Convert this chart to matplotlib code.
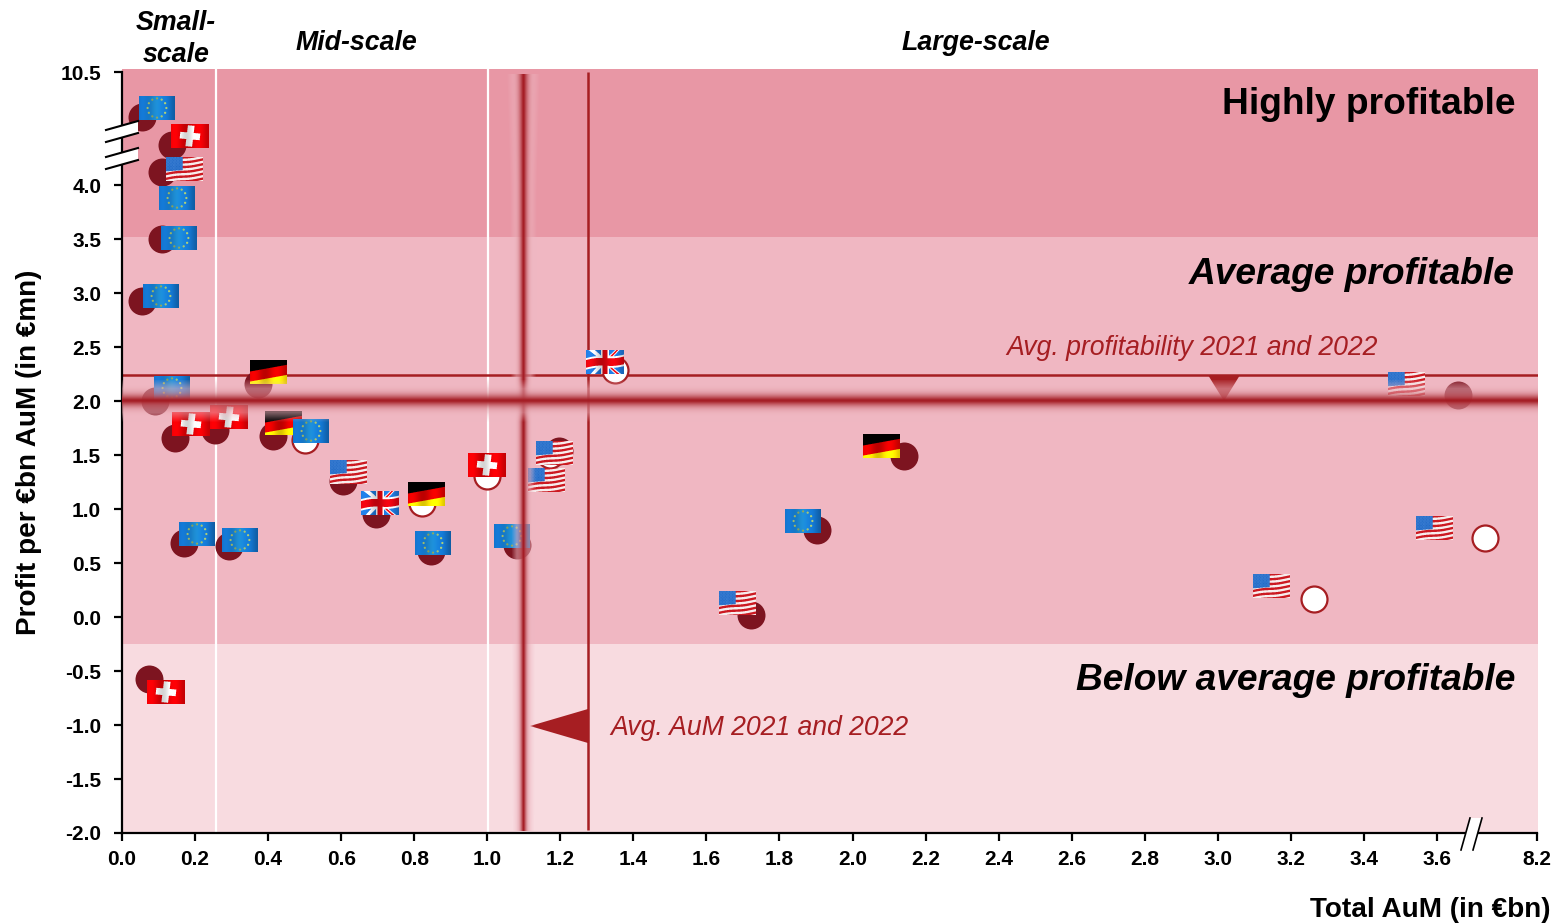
import numpy as np
import matplotlib
matplotlib.use('Agg')
import matplotlib.pyplot as plt
from matplotlib.offsetbox import AnnotationBbox, OffsetImage
from matplotlib.patches import Polygon

plt.rcParams['font.family'] = ['Liberation Sans', 'DejaVu Sans']

# funds, solid markers (AuM in EUR bn, profit per bn AuM in EUR mn)
solid_x = [0.055, 0.137, 0.110, 0.110, 0.055, 0.145, 0.255, 0.372, 0.413, 0.605, 0.695,
           0.170, 0.293, 1.196, 0.846, 1.081, 0.090, 2.141, 1.903, 1.722, 4.56, 0.074]
solid_y = [7.91, 6.30, 4.75, 3.50, 2.93, 1.66, 1.73, 2.16, 1.68, 1.26, 0.95,
           0.69, 0.66, 1.54, 0.61, 0.67, 2.00, 1.49, 0.81, 0.02, 2.06, -0.57]

# funds, open markers
open_x = [0.501, 0.821, 0.999, 1.350, 1.172, 3.263, 5.80]
open_y = [1.64, 1.06, 1.31, 2.29, 1.50, 0.17, 0.73]

# country flags next to the markers
flag_country = ['EU', 'CH', 'US', 'EU', 'EU', 'EU', 'EU', 'CH', 'CH', 'DE', 'DE', 'EU', 'US', 'UK', 'EU',
                'EU', 'DE', 'EU', 'CH', 'US', 'US', 'EU', 'UK', 'DE', 'EU', 'US', 'US', 'US', 'US', 'CH']
flag_x = [0.096, 0.186, 0.170, 0.151, 0.156, 0.107, 0.137, 0.189, 0.293, 0.400, 0.441, 0.517, 0.619, 0.706, 0.205,
          0.323, 0.835, 0.851, 0.999, 1.185, 1.161, 1.068, 1.322, 2.080, 1.864, 1.684, 3.518, 3.148, 3.592, 0.120]
flag_y = [8.43, 6.82, 4.92, 3.88, 3.51, 2.97, 2.12, 1.79, 1.85, 2.27, 1.80, 1.72, 1.34, 1.06, 0.77,
          0.71, 1.14, 0.69, 1.41, 1.52, 1.27, 0.75, 2.36, 1.58, 0.89, 0.13, 2.16, 0.29, 0.82, -0.69]

x_ticks = [0.0, 0.2, 0.4, 0.6, 0.8, 1.0, 1.2, 1.4, 1.6, 1.8, 2.0, 2.2, 2.4, 2.6, 2.8, 3.0, 3.2, 3.4, 3.6, 8.2]
y_ticks = [-2.0, -1.5, -1.0, -0.5, 0.0, 0.5, 1.0, 1.5, 2.0, 2.5, 3.0, 3.5, 4.0, 10.5]

avg_aum = 1.276
avg_profit = 2.24
scale_borders = [0.257, 1.002]
glow_aum = 1.097
glow_profit = 2.0
band_edges = [-2.0, -0.25, 3.52, 10.7]
band_colors = ['#F8DBE0', '#F0B7C2', '#E897A5']

DARK = '#7D1420'
RED = '#A61E22'
W, H = 1555, 923


# broken axes: everything past the break is squeezed
def x_forward(x):
    x = np.asarray(x, dtype=float)
    return np.where(x <= 3.6, x, 3.6 + (x - 3.6) * 0.274 / 4.6)


def x_inverse(x):
    x = np.asarray(x, dtype=float)
    return np.where(x <= 3.6, x, 3.6 + (x - 3.6) * 4.6 / 0.274)


def y_forward(y):
    y = np.asarray(y, dtype=float)
    return np.where(y <= 4.0, y, 4.0 + (y - 4.0) * 1.046 / 6.5)


def y_inverse(y):
    y = np.asarray(y, dtype=float)
    return np.where(y <= 4.0, y, 4.0 + (y - 4.0) * 6.5 / 1.046)


def px(x, y):
    # pixel position to figure fraction
    return x / W, 1 - y / H


def make_flag(country, w=36, h=24, ss=4):
    """Waving flag as an RGB array of w x h pixels."""
    u, v = np.meshgrid((np.arange(w * ss) + 0.5) / (w * ss), (np.arange(h * ss) + 0.5) / (h * ss))
    img = np.ones(u.shape + (3,))
    shade = 1 + 0.14 * np.sin(u * 2 * np.pi * 1.6 + 0.6)
    if country == 'DE':
        vw = v + 0.28 * (u - 0.5)
        img[vw < 0.34] = [0, 0, 0]
        img[(vw >= 0.34) & (vw < 0.76)] = [0.86, 0.0, 0.0]
        img[vw >= 0.76] = [1.0, 0.9, 0.0]
    elif country == 'CH':
        img[:] = [0.88, 0.0, 0.02]
        a = (u - 0.5) * 1.58 + (v - 0.5) * 0.12
        b = (v - 0.5) - (u - 0.5) * 0.14
        cross = ((np.abs(a) < 0.14) & (np.abs(b) < 0.44)) | ((np.abs(a) < 0.42) & (np.abs(b) < 0.14))
        img[cross] = [0.97, 0.97, 0.97]
    elif country == 'US':
        vw = v + 0.2 * (u - 0.5) + 0.02 * np.sin(u * 2 * np.pi * 1.1)
        stripe = np.floor(vw * 10 + 0.4) % 2 == 0
        img[stripe] = [0.8, 0.1, 0.13]
        img[~stripe] = [0.97, 0.93, 0.93]
        canton = (u < 0.45) & (v < 0.6 - 0.12 * u)
        img[canton] = [0.14, 0.42, 0.78]
        dots = (np.sin(u * 150) * np.sin(v * 100) > 0.3) & canton
        img[dots] = [0.3, 0.55, 0.86]
    elif country == 'EU':
        img[:] = [0.07, 0.42, 0.74]
        light = np.exp(-((u - 0.45) / 0.16) ** 2) * 0.22
        img[..., 0] += light * 0.3
        img[..., 1] += light
        img[..., 2] += light
        for k in range(12):
            t = k * np.pi / 6
            du = (u - 0.5 - 0.26 * np.cos(t)) * w / h
            dv = v - 0.5 - 0.40 * np.sin(t)
            img[du ** 2 + dv ** 2 < 0.0022] = [0.6, 0.72, 0.42]
    elif country == 'UK':
        img[:] = [0.12, 0.45, 0.82]
        a = (u - 0.5) * 1.5
        vw = (v - 0.5) + 0.16 * (u - 0.5) + 0.04 * np.sin(u * 6)
        img[np.abs(np.abs(a) - np.abs(vw)) < 0.1] = [0.95, 0.95, 0.97]
        img[np.abs(a * np.sign(vw) - vw) < 0.045] = [0.85, 0.05, 0.08]
        img[(np.abs(a) < 0.16) | (np.abs(vw) < 0.24)] = [0.96, 0.96, 0.97]
        img[(np.abs(a) < 0.1) | (np.abs(vw) < 0.16)] = [0.85, 0.02, 0.06]
    if country != 'US':
        img = img * shade[..., None]
    img = np.clip(img, 0, 1)
    return img.reshape(h, ss, w, ss, 3).mean(axis=(1, 3))


def glow_rgba(d, half):
    """Soft pink haze with a dark red core; d is the distance from the centre in pixels."""
    pink = np.array([0.94, 0.73, 0.77])
    core = np.array([0.65, 0.12, 0.15])
    mix = 0.85 * np.exp(-(d / (half * 0.36)) ** 2)[..., None] + 0.15 * np.exp(-(d / (half * 0.1)) ** 2)[..., None]
    out = np.zeros(d.shape + (4,))
    out[..., :3] = pink * (1 - mix) + core * mix
    out[..., 3] = np.clip(1.2 * (1 - d / half), 0, 0.55) + 0.45 * np.exp(-(d / (half * 0.3)) ** 2)
    return np.clip(out, 0, 1)


fig = plt.figure(figsize=(W / 100, H / 100), dpi=100, facecolor='white')
ax = fig.add_axes([122 / W, 1 - 833 / H, (1538 - 122) / W, (833 - 69) / H])
ax.set_xscale('function', functions=(x_forward, x_inverse))
ax.set_yscale('function', functions=(y_forward, y_inverse))

# profitability bands
for i in range(3):
    ax.axhspan(band_edges[i], band_edges[i + 1], color=band_colors[i], lw=0, zorder=0)

# scale borders and averages
for b in scale_borders:
    ax.axvline(b, color='white', lw=1.6, zorder=1)
ax.axhline(avg_profit, color=RED, lw=1.8, zorder=1.5)
ax.plot([avg_aum, avg_aum], [-1.97, 10.5], color=RED, lw=1.8, zorder=1.5, solid_capstyle='butt')

# pointers to the averages
ax.add_patch(Polygon([px(1208, 375), px(1240, 375), px(1224, 401)], closed=True, color=RED, lw=0,
                     transform=fig.transFigure, zorder=1.6))
ax.add_patch(Polygon([px(530, 726), px(588, 709), px(588, 743)], closed=True, color=RED, lw=0,
                     transform=fig.transFigure, zorder=1.6))

ax.scatter(solid_x, solid_y, s=406, color=DARK, lw=0, zorder=3)
ax.scatter(open_x, open_y, s=350, facecolor='white', edgecolor=RED, lw=1.6, zorder=3)

for c, fx, fy in zip(flag_country, flag_x, flag_y):
    fw = 38 if c in ('CH', 'UK') else 37 if c in ('US', 'DE') else 36
    ab = AnnotationBbox(OffsetImage(make_flag(c, fw, 24), zoom=1, dpi_cor=False), (fx, fy), frameon=False, pad=0,
                        box_alignment=(0.5, 0.5), annotation_clip=False, zorder=5)
    ax.add_artist(ab)

# blurred lines on top of everything
dv = np.abs(np.linspace(-22, 22, 89))[:, None]
ax.imshow(glow_rgba(dv, 22), extent=[0, 8.245, glow_profit - 22 / 108, glow_profit + 22 / 108],
          aspect='auto', zorder=7, interpolation='bilinear')
rows = np.linspace(17, 11, 200)[:, None]
dh = np.abs(np.linspace(-18, 18, 73))[None, :]
ax.imshow(glow_rgba(dh * 17 / rows, 17), extent=[glow_aum - 18 / 365.3, glow_aum + 18 / 365.3, -1.98, 10.45],
          aspect='auto', zorder=6, interpolation='bilinear')

ax.set_xlim(0, 8.245)
ax.set_ylim(-2.0, 10.68)
ax.set_xticks(x_ticks)
ax.set_xticklabels(['%.1f' % t for t in x_ticks], fontsize=15, fontweight='bold')
ax.set_yticks(y_ticks)
ax.set_yticklabels(['%.1f' % t for t in y_ticks], fontsize=15, fontweight='bold')
ax.tick_params(axis='both', which='major', length=6, width=1.6, color='black')
ax.tick_params(axis='x', pad=6)
ax.tick_params(axis='y', pad=9)
ax.minorticks_off()
for side in ['top', 'right']:
    ax.spines[side].set_visible(False)
ax.spines['left'].set_linewidth(1.6)
ax.spines['bottom'].set_linewidth(1.6)
ax.spines['left'].set_bounds(-2.0, 10.5)
ax.spines['bottom'].set_bounds(0, 8.2)

# axis breaks
for y0 in [130, 157]:
    ax.add_patch(Polygon([px(106, y0), px(138, y0 - 9), px(138, y0 + 3), px(106, y0 + 12)], closed=True,
                         facecolor='white', lw=0, transform=fig.transFigure, clip_on=False, zorder=8))
    for dy in [0, 12]:
        fig.add_artist(plt.Line2D(*zip(px(106, y0 + dy), px(138, y0 - 9 + dy)), color='black', lw=1.5, zorder=9))
ax.add_patch(Polygon([px(1461, 850), px(1470, 818), px(1482, 818), px(1473, 850)], closed=True,
                     facecolor='white', lw=0, transform=fig.transFigure, clip_on=False, zorder=8))
for x0 in [1461, 1473]:
    fig.add_artist(plt.Line2D(*zip(px(x0, 850), px(x0 + 9, 818)), color='black', lw=1.2, zorder=9))

# band names
fx_right = 1515
ax.text(*px(fx_right, 105), 'Highly profitable', transform=fig.transFigure, ha='right', va='center',
        fontsize=26.7, fontweight='bold', zorder=10)
ax.text(*px(fx_right, 274), 'Average profitable', transform=fig.transFigure, ha='right', va='center',
        fontsize=26.7, fontweight='bold', fontstyle='italic', zorder=10)
ax.text(*px(fx_right, 681), 'Below average profitable', transform=fig.transFigure, ha='right', va='center',
        fontsize=26.7, fontweight='bold', fontstyle='italic', zorder=10)

# average captions
ax.text(*px(1006, 348), 'Avg. profitability 2021 and 2022', transform=fig.transFigure, ha='left', va='center',
        fontsize=19.15, fontstyle='italic', color=RED, zorder=10)
ax.text(*px(610, 728), 'Avg. AuM 2021 and 2022', transform=fig.transFigure, ha='left', va='center',
        fontsize=19.15, fontstyle='italic', color=RED, zorder=10)

# fund size headers
fig.text(*px(176, 39), 'Small-\nscale', ha='center', va='center', fontsize=19.3, fontweight='bold',
         fontstyle='italic', linespacing=1.25)
fig.text(*px(356, 43), 'Mid-scale', ha='center', va='center', fontsize=19.3, fontweight='bold', fontstyle='italic')
fig.text(*px(976, 43), 'Large-scale', ha='center', va='center', fontsize=19.3, fontweight='bold', fontstyle='italic')

fig.text(*px(1551, 910), 'Total AuM (in €bn)', ha='right', va='center', fontsize=20.1, fontweight='bold')
fig.text(*px(29, 452), 'Profit per €bn AuM (in €mn)', ha='center', va='center', rotation=90,
         fontsize=20.1, fontweight='bold')

fig.savefig('out.png', dpi=100, facecolor='white')
